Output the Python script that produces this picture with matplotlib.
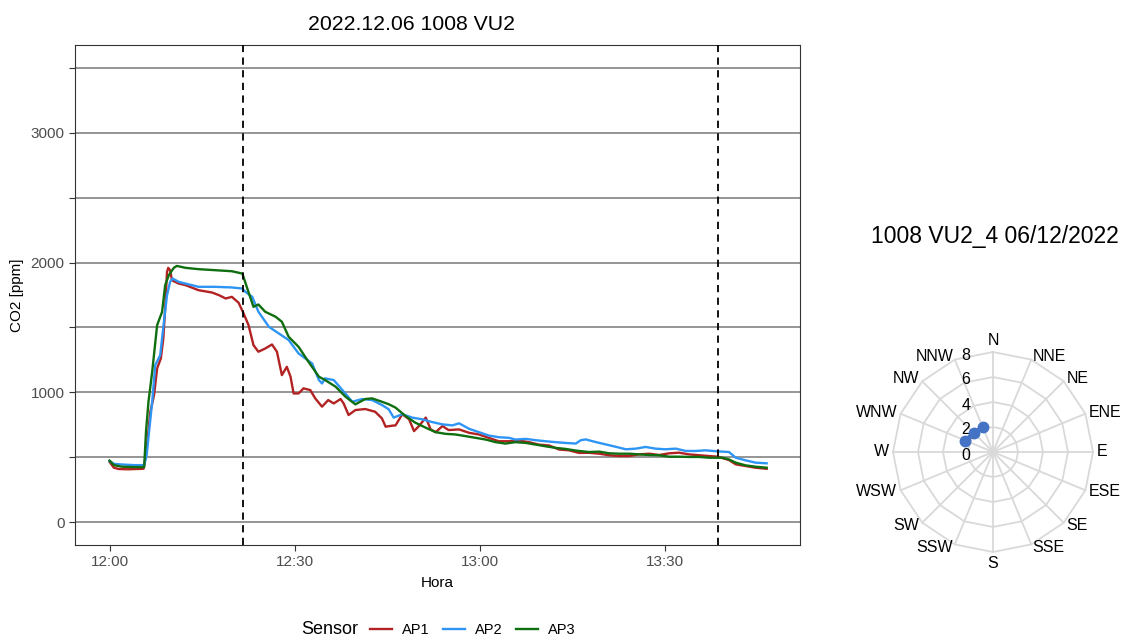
import numpy as np
import matplotlib
matplotlib.use("Agg")
import matplotlib.pyplot as plt
from matplotlib.lines import Line2D
from matplotlib.transforms import offset_copy

plt.rcParams["font.family"] = ["Liberation Sans", "DejaVu Sans"]

# CO2 series, time in minutes after 12:00
ap1_t = [0, 0.7, 1.5, 3, 5.5, 5.9, 6.6, 7.2, 7.7, 8.3, 8.7, 9.0, 9.3, 9.5, 9.8, 10.1, 10.4, 11.2, 12.3,
         14.4, 16.6, 17.7, 18.8, 19.8, 20.9, 21.7, 22.5, 23.3, 24.1, 25.2, 26.3, 27.1, 27.9, 28.7, 29.3,
         29.8, 30.6, 31.4, 32.5, 33.3, 34.4, 35.4, 36.3, 37.4, 37.9, 38.7, 39.8, 41.4, 43.0, 44.1, 44.7,
         45.8, 46.3, 47.4, 48.5, 49.3, 50.1, 51.2, 52.0, 52.8, 53.9, 54.9, 56.6, 58.2, 59.8, 61.4, 63.0,
         64.7, 66.3, 67.9, 69.5, 71.2, 72.8, 74.4, 76.0, 77.6, 79.3, 80.9, 82.5, 84.1, 85.7, 87.4, 89.0,
         90.6, 92.2, 93.8, 95.5, 97.1, 98.5, 100.3, 101.4, 103.0, 104.6, 106.4]
ap1_ppm = [465, 420, 410, 408, 412, 520, 850, 980, 1185, 1262, 1415, 1646, 1928, 1959, 1941, 1864, 1856, 1838, 1826,
           1787, 1769, 1749, 1723, 1736, 1690, 1608, 1518, 1364, 1313, 1338, 1369, 1313, 1133, 1197, 1121,
           992, 992, 1031, 1018, 954, 890, 941, 915, 949, 915, 826, 864, 872, 851, 800, 736,
           744, 746, 832, 793, 702, 741, 806, 715, 694, 741, 710, 715, 689, 676, 650, 624,
           624, 629, 617, 598, 591, 560, 554, 534, 535, 528, 516, 510, 510, 523, 528, 518,
           531, 536, 523, 516, 510, 505, 479, 446, 433, 420, 412]

ap2_t = [0, 0.7, 2, 4, 5.6, 6.0, 6.9, 7.4, 8.2, 8.8, 9.3, 9.8, 10.2, 11.2, 12.3, 14.4, 17.1, 19.8, 21.5,
         22.0, 23.1, 24.1, 25.8, 27.4, 29.0, 30.6, 32.8, 33.9, 34.4, 34.9, 36.3, 37.7, 39.3, 40.9, 42.5,
         44.1, 45.2, 46.0, 47.4, 49.0, 50.6, 52.2, 53.9, 55.5, 56.6, 58.2, 59.8, 61.4, 63.0, 64.7, 65.7,
         67.4, 69.0, 70.6, 72.2, 73.8, 75.5, 76.3, 77.1, 78.7, 80.3, 81.9, 83.6, 85.2, 86.8, 88.4, 90.0,
         91.7, 93.3, 94.9, 96.5, 98.5, 100.3, 101.4, 103.0, 104.6, 106.4]
ap2_ppm = [470, 450, 445, 440, 440, 518, 928, 1210, 1287, 1544, 1749, 1851, 1877, 1851, 1838, 1813, 1813, 1808, 1800,
           1774, 1736, 1621, 1505, 1454, 1403, 1300, 1223, 1095, 1069, 1108, 1095, 1018, 928, 949, 941,
           903, 870, 806, 832, 806, 793, 772, 754, 746, 762, 720, 694, 668, 655, 650, 637,
           642, 632, 624, 617, 611, 606, 632, 638, 618, 600, 582, 562, 567, 580, 567, 562,
           567, 549, 549, 554, 546, 541, 497, 477, 459, 454]

ap3_t = [0, 0.7, 2, 4, 5.6, 5.9, 6.3, 6.9, 7.7, 8.5, 9.0, 9.6, 10.4, 10.9, 12.3, 14.4, 19.8, 21.5,
         22.3, 23.3, 24.1, 25.2, 26.9, 27.9, 29.0, 30.6, 32.2, 33.9, 34.9, 36.6, 38.2, 39.8, 41.4, 42.5,
         44.1, 45.2, 46.3, 47.9, 49.5, 51.2, 52.8, 54.4, 56.0, 57.7, 59.3, 60.9, 62.5, 64.1, 65.7, 67.4,
         69.0, 70.6, 72.2, 73.8, 75.5, 77.6, 79.3, 80.9, 82.5, 84.1, 85.7, 87.4, 89.0, 90.6, 92.2, 93.8,
         95.5, 97.1, 99.2, 100.3, 101.4, 103.0, 104.6, 106.4]
ap3_ppm = [475, 440, 428, 425, 425, 700, 928, 1159, 1518, 1620, 1826, 1903, 1959, 1974, 1959, 1949, 1933, 1915,
           1800, 1659, 1677, 1621, 1582, 1544, 1428, 1351, 1236, 1121, 1095, 1044, 967, 908, 949, 954,
           928, 909, 883, 819, 767, 728, 694, 681, 676, 663, 650, 637, 617, 606, 617, 611,
           598, 585, 573, 565, 552, 541, 544, 531, 528, 528, 523, 518, 516, 505, 505, 503,
           503, 497, 497, 484, 459, 438, 428, 420]

sensors = ["AP1", "AP2", "AP3"]
sensor_colors = ["#B22222", "#2F95F5", "#0F6E0F"]
event_t = [21.6, 98.5]
xtick_t = [0, 30, 60, 90]
xtick_labels = ["12:00", "12:30", "13:00", "13:30"]

# wind rose
directions = ["N", "NNE", "NE", "ENE", "E", "ESE", "SE", "SSE",
              "S", "SSW", "SW", "WSW", "W", "WNW", "NW", "NNW"]
wind_dir = ["WNW", "NW", "NNW"]
wind_val = [2.4, 2.1, 2.15]
rings = [2, 4, 6, 8]

fig = plt.figure(figsize=(11.33, 6.38), dpi=100)

# ---- main time series panel
ax = fig.add_axes([75 / 1133, 93 / 638, 725 / 1133, 500 / 638])
for yv in np.arange(0, 3501, 500):
    ax.axhline(yv, color="#8c8c8c", lw=1.3, zorder=1)
series = [(ap1_t, ap1_ppm), (ap2_t, ap2_ppm), (ap3_t, ap3_ppm)]
for (t, v), c in zip(series, sensor_colors):
    ax.plot(t, v, color=c, lw=1.7, zorder=3)
for t in event_t:
    ax.axvline(t, color="black", ls=(0, (4, 3)), lw=1.3, zorder=4)

ax.set_xlim(-5.6, 111.8)
ax.set_ylim(-175, 3675)
ax.set_xticks(xtick_t)
ax.set_xticklabels(xtick_labels)
ax.set_yticks(np.arange(0, 3501, 500))
ax.set_yticklabels(["0", "", "1000", "", "2000", "", "3000", ""])
ax.tick_params(colors="#333333", labelcolor="#4d4d4d", labelsize=11, length=4, width=0.8)
for s in ax.spines.values():
    s.set_color("#333333")
    s.set_linewidth(0.8)
ax.set_xlabel("Hora", fontsize=11, labelpad=5)
ax.set_ylabel("CO2 [ppm]", fontsize=11, labelpad=5)
fig.text(411 / 1133, 1 - 24 / 638, "2022.12.06 1008 VU2", fontsize=15.3, ha="center", va="center")

# legend along the bottom
handles = [Line2D([], [], color=c, lw=1.7) for c in sensor_colors]
fig.legend(handles, sensors, loc="center left", bbox_to_anchor=(370 / 1133, 8 / 638), ncol=3,
           frameon=False, fontsize=10.5, handlelength=1.5, handletextpad=0.7, columnspacing=0.9,
           borderpad=0, borderaxespad=0)
fig.text(358 / 1133, 8 / 638, "Sensor", fontsize=13, ha="right", va="center")

# ---- wind rose panel
pax = fig.add_axes([893 / 1133, 86 / 638, 200 / 1133, 200 / 638], projection="polar")
pax.set_theta_zero_location("N")
pax.set_theta_direction(-1)
pax.set_ylim(0, 8)
pax.grid(False)
pax.set_xticks([])
pax.set_yticks([])
pax.spines["polar"].set_visible(False)
pax.patch.set_visible(False)

angles = np.deg2rad(np.arange(16) * 22.5)
grid_col = "#d9d9d9"
for a in angles:
    pax.plot([a, a], [0, 8], color=grid_col, lw=1.3, clip_on=False, zorder=1)
for r in rings:
    closed = np.append(angles, angles[0])
    pax.plot(closed, [r] * len(closed), color=grid_col, lw=1.3, clip_on=False, zorder=1)

for a, d in zip(angles, directions):
    s, c = np.sin(a), np.cos(a)
    ha = "left" if s > 0.1 else ("right" if s < -0.1 else "center")
    va = "bottom" if c > 0.99 else ("top" if c < -0.99 else "center")
    pax.text(a, 8.3, d, ha=ha, va=va, fontsize=11.5)

lab_tr = offset_copy(pax.transData, fig=fig, x=-27, y=-3, units="dots")
for r in [0, 2, 4, 6, 8]:
    pax.text(0, r, str(r), transform=lab_tr, ha="center", va="center", fontsize=11.5)

wind_theta = [angles[directions.index(d)] for d in wind_dir]
pax.plot(wind_theta, wind_val, color="#4472C4", lw=3.5, marker="o", ms=7.5, zorder=5, clip_on=False)

fig.text(995 / 1133, 1 - 237 / 638, "1008 VU2_4 06/12/2022", fontsize=16.5, ha="center", va="center")

fig.savefig("out.png", dpi=100)
